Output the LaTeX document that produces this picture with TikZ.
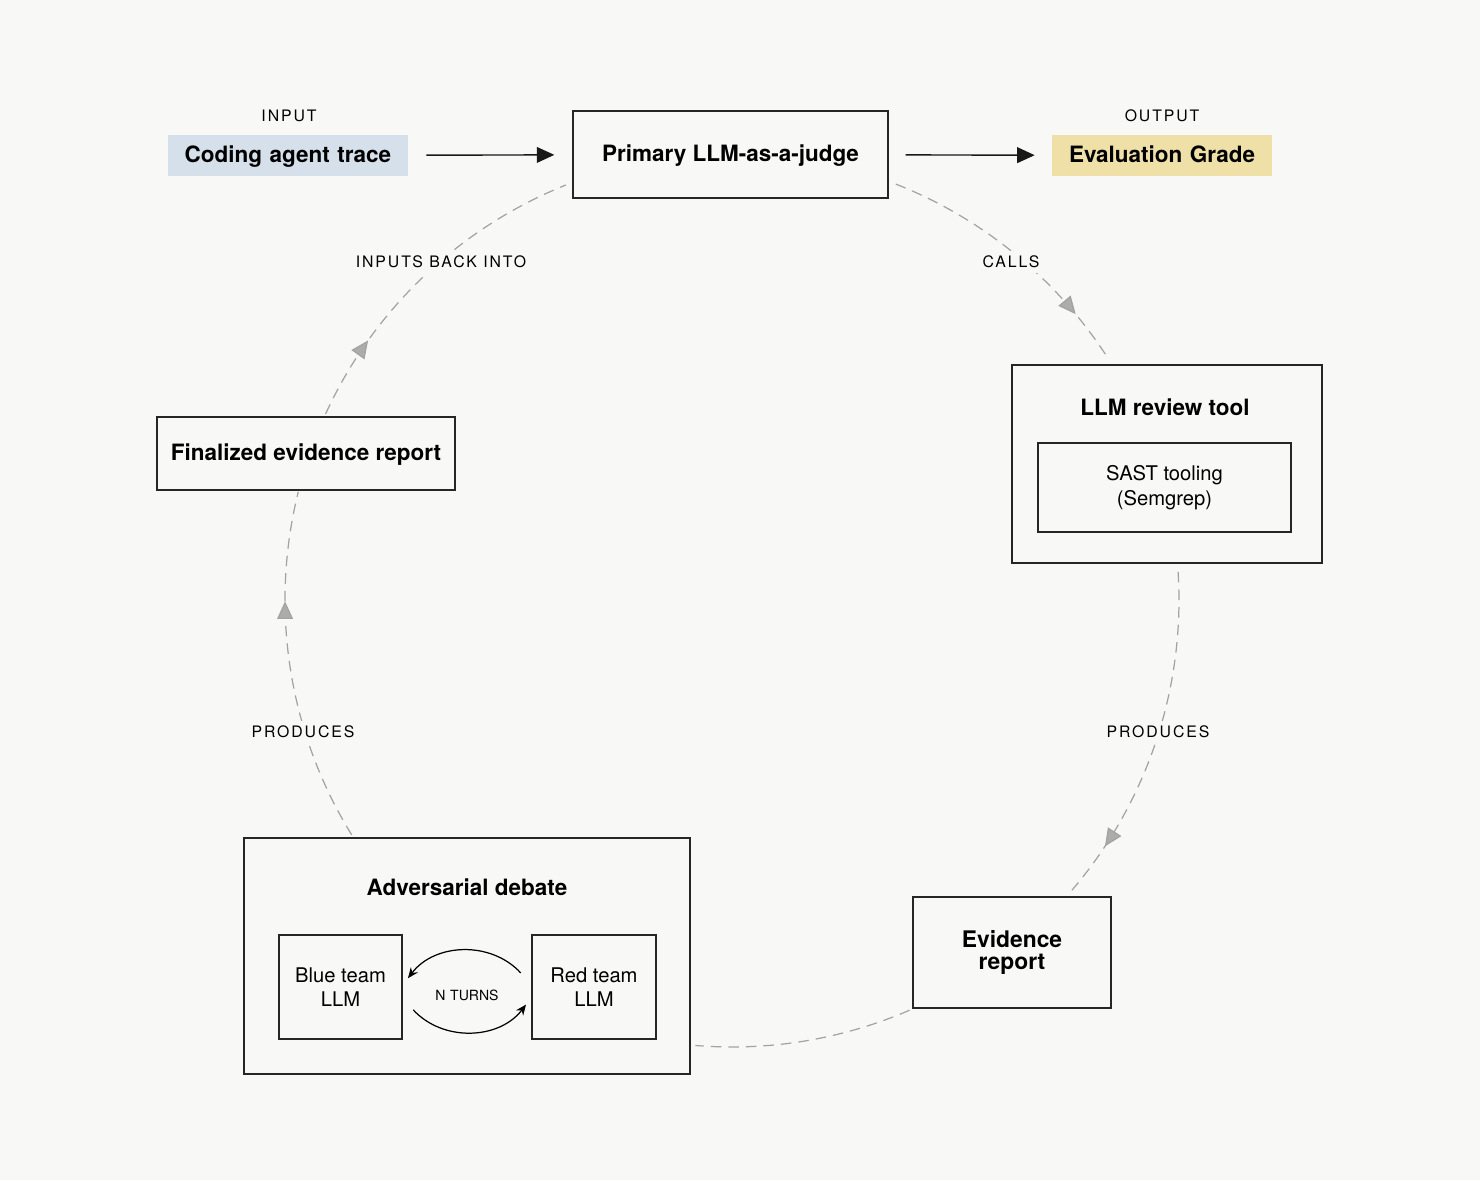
\documentclass[tikz,border=0pt]{standalone}
\usepackage{fontspec}
\setmainfont{TeX Gyre Heros}
\newfontfamily\labfont{TeX Gyre Heros}[LetterSpace=12]
\usetikzlibrary{arrows.meta,decorations.markings,positioning}
\definecolor{bgcol}{HTML}{F8F8F7}
\definecolor{inblue}{HTML}{D5E0EA}
\definecolor{outyellow}{HTML}{EFE0A8}
\definecolor{flowgray}{HTML}{A3A3A3}
\tikzset{
  box/.style={draw=black!85, line width=0.8pt, align=center, inner sep=0pt},
  title/.style={font=\fontsize{12.8}{15}\selectfont\bfseries, align=center},
  oneline/.style={text height=0.9em, text depth=0.05em},
  body/.style={font=\fontsize{11.5}{14}\selectfont, align=center},
  tag/.style={font=\labfont\fontsize{9}{10}\selectfont, fill=bgcol, inner sep=3pt},
  solidarrow/.style={-{Triangle[length=10pt,width=9pt]}, line width=0.8pt, black!90},
  flow/.style={dashed, dash pattern=on 6pt off 4pt, flowgray, line width=0.7pt,
    postaction={decorate}, decoration={markings,
      mark=at position #1 with {\arrow{Triangle[length=10pt,width=9pt,fill=flowgray!90]}}}},
  flow/.default=2
}
\begin{document}
\begin{tikzpicture}[x=0.02cm,y=0.02cm]
\fill[bgcol] (0,0) rectangle (1480,1180);
\useasboundingbox (0,0) rectangle (1480,1180);

% dashed cycle
\coordinate (c) at (732,580);
\draw[flow=0.81] ([shift={(68.5:447)}]c) arc[start angle=68.5, end angle=33, radius=447];
\draw[flow=0.84] ([shift={(3.6:447)}]c) arc[start angle=3.6, end angle=-40.5, radius=447];
\draw[flow=2] ([shift={(-66.6:447)}]c) arc[start angle=-66.6, end angle=-94.7, radius=447];
\draw[flow=0.69] ([shift={(211.7:447)}]c) arc[start angle=211.7, end angle=166, radius=447];
\draw[flow=0.25] ([shift={(155.4:447)}]c) arc[start angle=155.4, end angle=111.8, radius=447];

\node[tag] (callslab) at (1011,918) {CALLS};
\node[tag] (prodright) at (1158,448) {PRODUCES};
\node[tag] (prodleft) at (303,448) {PRODUCES};
\node[tag] (backlab) at (441,918) {INPUTS BACK INTO};

% top row
\node[tag] (inlab) at (289,1064) {INPUT};
\node[title, oneline, fill=inblue, inner sep=0pt, text width=4.8cm, minimum height=0.82cm] (trace) at (288,1024.5) {Coding agent trace};
\node[box, title, oneline, minimum width=6.3cm, minimum height=1.74cm] (judge) at (730.5,1025.5) {Primary LLM-as-a-judge};
\node[tag] (outlab) at (1162,1064) {OUTPUT};
\node[title, oneline, fill=outyellow, inner sep=0pt, text width=4.4cm, minimum height=0.82cm] (grade) at (1162,1024.5) {Evaluation Grade};
\draw[solidarrow, shorten <=0.36cm, shorten >=0.36cm] (trace) -- (judge);
\draw[solidarrow, shorten <=0.34cm, shorten >=0.34cm] (judge) -- (grade);

% review tool
\node[box, minimum width=6.2cm, minimum height=3.96cm] (review) at (1167,716) {};
\node[title, oneline] (reviewtitle) at (1165,772) {LLM review tool};
\node[box, body, minimum width=5.06cm, minimum height=1.78cm] (sast) at (1164.5,692.5) {SAST tooling\\(Semgrep)};

% evidence
\node[box, title, minimum width=3.96cm, minimum height=2.22cm, font=\fontsize{13}{12.5}\selectfont\bfseries] (evidence) at (1012,227.5) {Evidence\\report};

% debate
\node[box, minimum width=8.92cm, minimum height=4.72cm] (debate) at (467,224) {};
\node[title, oneline] (debatetitle) at (467,292) {Adversarial debate};
\node[box, body, minimum width=2.46cm, minimum height=2.08cm] (blue) at (340.5,193) {Blue team\\LLM};
\node[box, body, minimum width=2.48cm, minimum height=2.08cm] (red) at (594,193) {Red team\\LLM};
\node[font=\fontsize{8}{9}\selectfont] (turns) at (467,185) {N\,\,TURNS};
\draw[-{Stealth[length=6pt,width=5pt]}, line width=0.7pt] ([xshift=-6pt,yshift=8pt]red.west) to[bend right=50] ([xshift=3pt,yshift=5pt]blue.east);
\draw[-{Stealth[length=6pt,width=5pt]}, line width=0.7pt] ([xshift=6pt,yshift=-13pt]blue.east) to[bend right=50] ([xshift=-3pt,yshift=-10pt]red.west);

% finalized
\node[box, title, oneline, minimum width=5.96cm, minimum height=1.46cm] (final) at (306,726.5) {Finalized evidence report};
\end{tikzpicture}
\end{document}
